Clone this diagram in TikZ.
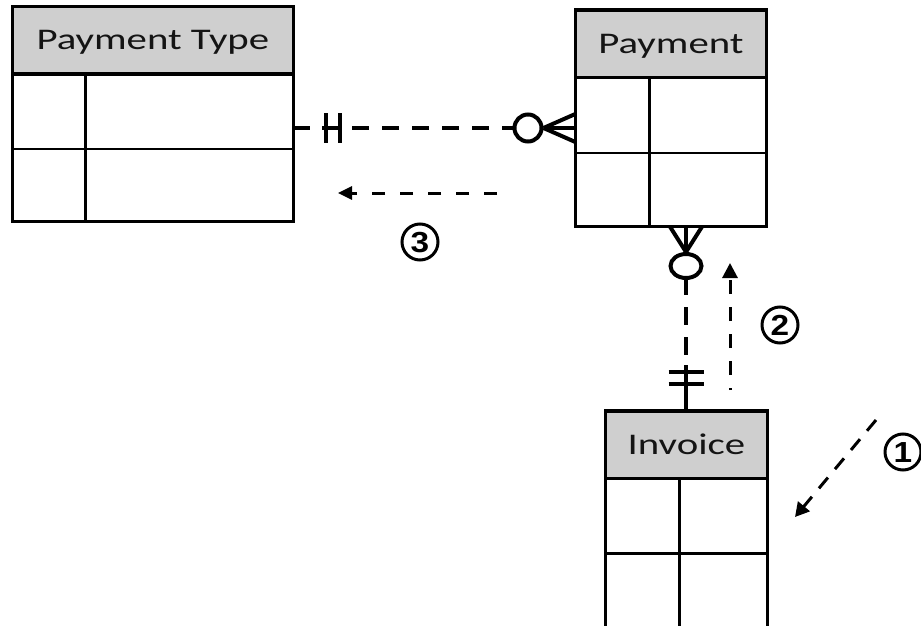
\documentclass[tikz,border=0pt]{standalone}
\usepackage{fontspec}
\newfontfamily\tablefont{Carlito}[FakeStretch=1.36]
\newfontfamily\numfont{Liberation Sans}[FakeStretch=1.15]
\usetikzlibrary{arrows.meta,calc,shapes.geometric}
\definecolor{headgray}{RGB}{207,207,207}

\begin{document}
\begin{tikzpicture}[x=1pt,y=-1pt,
  frame/.style={line width=3.2pt},
  grid/.style={line width=2.6pt},
  head/.style={draw, fill=headgray, line width=3.2pt, inner sep=0pt,
    font=\tablefont\fontsize{30}{30}\selectfont, text=black!92,
    text height=19pt, text depth=0pt},
  rel/.style={line width=4pt},
  reldash/.style={rel, dash pattern=on 17pt off 13pt},
  flow/.style={line width=3pt, -{Triangle[length=14pt,width=13pt]}},
  num/.style={circle, draw, line width=3pt, minimum size=36pt, inner sep=0pt,
    font=\numfont\bfseries\fontsize{29}{29}\selectfont,
    text height=20.5pt, text depth=0pt}
]
\useasboundingbox (0,0) rectangle (921,626);
\clip (0,0) rectangle (921,626);

% ---- Payment Type table ----
\draw[grid] (12.5,149) -- (293.3,149);
\draw[grid] (85.7,74) -- (85.7,221.7);
\draw[frame] (12.5,6.7) rectangle (293.3,221.7);
\node[head, minimum width=280.8pt, minimum height=67.3pt] (ptype) at (152.9,40.35) {Payment Type};

% ---- Payment table ----
\draw[grid] (575.3,152.8) -- (766.7,152.8);
\draw[grid] (649.3,77.3) -- (649.3,226.7);
\draw[frame] (575.3,10) rectangle (766.7,226.7);
\node[head, minimum width=191.4pt, minimum height=67.3pt] (pay) at (671,43.65) {Payment};

% ---- Invoice table (runs past the lower edge) ----
\draw[grid] (605.3,553.7) -- (767.5,553.7);
\draw[grid] (679.3,478.3) -- (679.3,640);
\draw[frame] (605.3,640) -- (605.3,411) -- (767.5,411) -- (767.5,640);
\node[head, minimum width=162.2pt, minimum height=67.3pt] (inv) at (686.4,444.65) {Invoice};

% ---- attachment points on the table edges ----
\coordinate (ptR) at (293.3,128);
\coordinate (payL) at (575.3,128);
\coordinate (payB) at (686,226.7);
\coordinate (invT) at (686,411);

% ---- Payment Type (one) -- Payment (zero or many) ----
\draw[rel] (ptR) -- ([xshift=17pt]ptR);
\draw[rel] ([xshift=29pt]ptR) -- ([xshift=48pt]ptR);
\draw[rel] ([xshift=33pt,yshift=15pt]ptR) -- ++(0,30);
\draw[rel] ([xshift=47pt,yshift=15pt]ptR) -- ++(0,30);
\node[circle, draw, rel, minimum size=27pt, inner sep=0pt] (o1) at (528,128) {};
\draw[reldash] ([xshift=59pt]ptR) -- (o1.west);
\draw[rel] (o1.east) -- (payL);
\draw[rel] (o1.east) -- ([yshift=14pt]payL);
\draw[rel] (o1.east) -- ([yshift=-14pt]payL);

% ---- Payment (zero or many) -- Invoice (one) ----
\node[ellipse, draw, rel, minimum width=31pt, minimum height=24pt, inner sep=0pt] (o2) at (686,266) {};
\draw[rel] (o2.north) -- (payB);
\draw[rel] (o2.north) -- ([xshift=-16pt]payB);
\draw[rel] (o2.north) -- ([xshift=16pt]payB);
\draw[rel, dash pattern=on 18pt off 12pt, dash phase=3pt] (o2.south) -- ([yshift=46pt]invT);
\draw[rel] ([yshift=46pt]invT) -- (invT);
\draw[rel] ([xshift=-17.5pt,yshift=39pt]invT) -- ++(35,0);
\draw[rel] ([xshift=-17.5pt,yshift=27pt]invT) -- ++(35,0);

% ---- reading-order arrows ----
\coordinate (f1s) at (876,420);
\coordinate (f1e) at (795,517);
\coordinate (f2s) at (730,390);
\coordinate (f2e) at (730,263);
\coordinate (f3s) at (497,193);
\coordinate (f3e) at (338,193);
\draw[flow, dash pattern=on 14pt off 11pt, -{Triangle[length=14pt,width=15pt]}] (f1s) -- (f1e);
\draw[flow, dash pattern=on 14pt off 13pt, dash phase=12pt, -{Triangle[length=15pt,width=15pt]}] (f2s) -- (f2e);
\draw[flow, dash pattern=on 13pt off 15pt] (f3s) -- (f3e);

\node[num] (n1) at (903,452) {1};
\node[num] (n2) at (780,325) {2};
\node[num] (n3) at (420,242) {3};
\end{tikzpicture}
\end{document}
